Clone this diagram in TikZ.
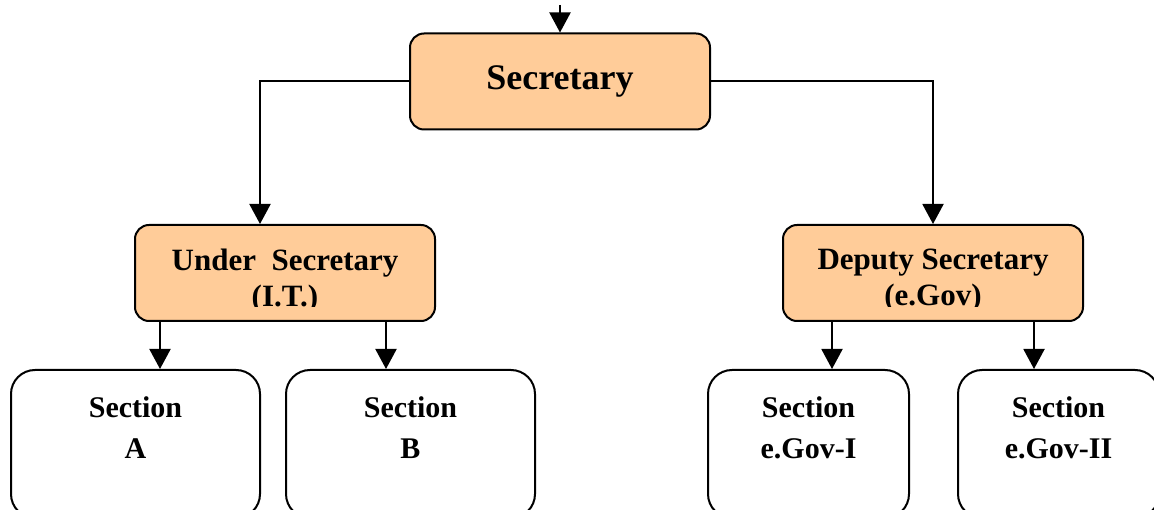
\documentclass[tikz,border=0pt]{standalone}
\usepackage{fontspec}
\setmainfont{Liberation Serif}
\usetikzlibrary{positioning,arrows.meta}
\definecolor{peach}{HTML}{FFCC99}

\tikzset{
  headbox/.style={draw,line width=2pt,fill=peach,rounded corners=14pt,
    minimum width=300pt,minimum height=96pt,inner sep=0pt},
  sectbox/.style={draw,line width=2pt,rounded corners=24pt,
    minimum height=148pt,inner sep=0pt},
  boxtext/.style={align=center,inner sep=0pt,font=\bfseries\fontsize{31}{36}\selectfont},
  secttext/.style={align=center,inner sep=0pt,font=\bfseries\fontsize{30}{41}\selectfont},
  arr/.style={line width=2pt,-{Triangle[length=20pt,width=21pt]}}
}

\begin{document}
\begin{tikzpicture}[x=1pt,y=-1pt]
\clip (0,0) rectangle (1154,510);
\useasboundingbox (0,0) rectangle (1154,510);

% top level
\node[headbox,font=\bfseries\fontsize{36}{40}\selectfont] (sec) at (560,81.5) {Secretary};
\coordinate (top) at (560,5);
\draw[arr] (top) -- (sec.north);

% second level
\node[headbox] (us) at (285,273) {};
\node[headbox] (ds) at (933,273) {};
\begin{scope}
\clip (0,0) rectangle (1154,307);
\node[boxtext,anchor=north] (ustext) at (285,249) {Under\ \ Secretary\\(I.T.)};
\node[boxtext,anchor=north] (dstext) at (933,249) {Deputy Secretary\\(e.Gov)};
\end{scope}
\draw[arr] (sec.west) -| ([xshift=-25pt]us.north);
\draw[arr] (sec.east) -| (ds.north);

% sections
\node[sectbox,minimum width=249pt] (secA) at (135.5,444) {};
\node[sectbox,minimum width=249pt] (secB) at (410.5,444) {};
\node[sectbox,minimum width=201pt] (secC) at (808.5,444) {};
\node[sectbox,minimum width=201pt] (secD) at (1058.5,444) {};
\node[secttext,below=27pt of secA.north] (secAtext) {Section\\A};
\node[secttext,below=27pt of secB.north] (secBtext) {Section\\B};
\node[secttext,below=27pt of secC.north] (secCtext) {Section\\e.Gov-I};
\node[secttext,below=27pt of secD.north] (secDtext) {Section\\e.Gov-II};

\draw[arr] ([xshift=26pt]us.south west) -- ([xshift=26pt]us.south west |- secA.north);
\draw[arr] ([xshift=-50pt]us.south east) -- ([xshift=-50pt]us.south east |- secB.north);
\draw[arr] ([xshift=50pt]ds.south west) -- ([xshift=50pt]ds.south west |- secC.north);
\draw[arr] ([xshift=-50pt]ds.south east) -- ([xshift=-50pt]ds.south east |- secD.north);
\end{tikzpicture}
\end{document}
